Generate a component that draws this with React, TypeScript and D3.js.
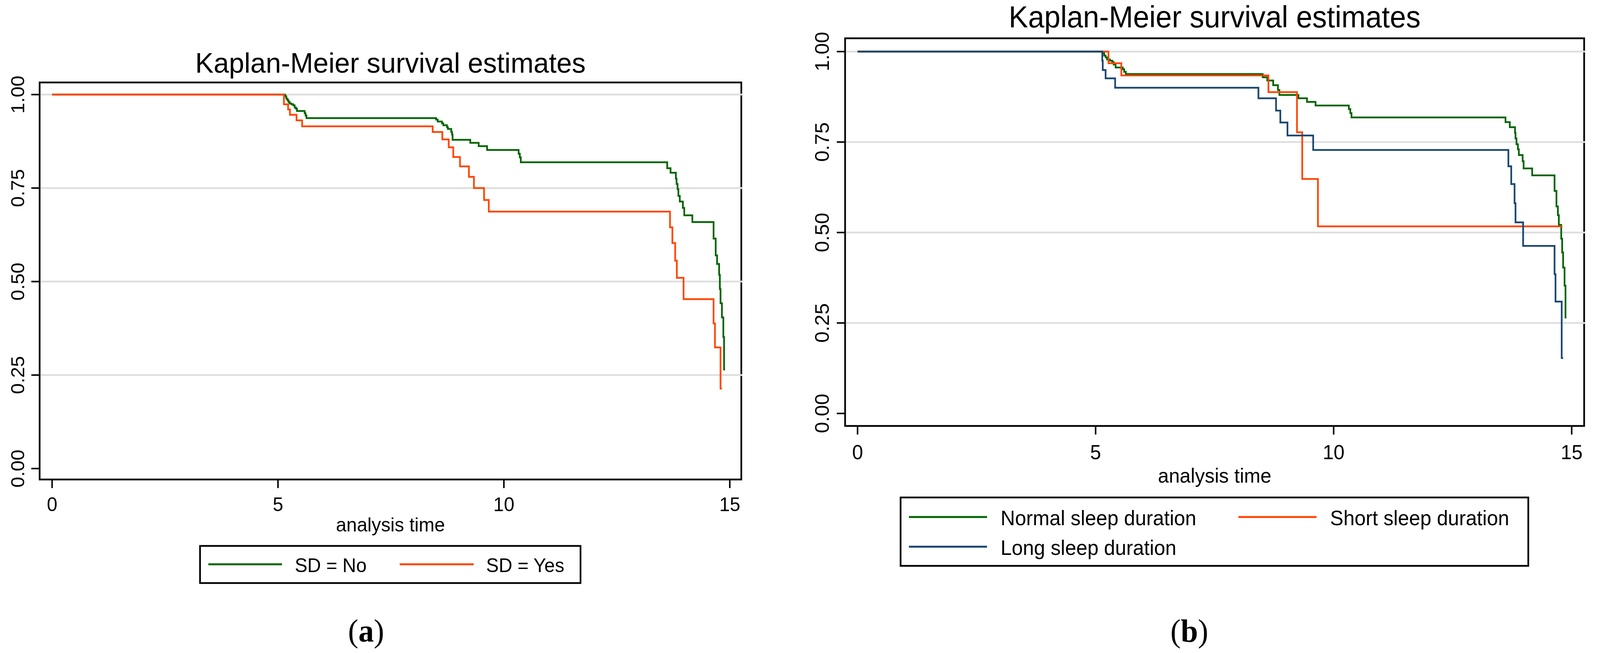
import React, { useEffect } from "react";
import * as d3 from "d3";

// ---------- data ----------
const xTicks = [0, 5, 10, 15];
const yTicks = [0, 0.25, 0.5, 0.75, 1];
const yGrid = [0.25, 0.5, 0.75, 1];
const yTickLabels = ["0.00", "0.25", "0.50", "0.75", "1.00"];
const chartTitle = "Kaplan-Meier survival estimates";
const xAxisTitle = "analysis time";

// Panel (a): SD = No
const aNoTime = [0, 5.155, 5.18, 5.19, 5.215, 5.235, 5.26, 5.3, 5.34, 5.37, 5.4, 5.42, 5.59, 5.61, 5.63,
  8.5, 8.535, 8.63, 8.66, 8.74, 8.76, 8.835, 8.853, 8.864, 9.256, 9.442, 9.628, 10.326, 10.352, 10.374,
  13.615, 13.689, 13.807, 13.822, 13.844, 13.862, 13.893, 13.962, 13.992, 14.171, 14.641, 14.688, 14.718,
  14.764, 14.78, 14.795, 14.826, 14.857, 14.873, 14.895];
const aNoSurv = [1, 0.996, 0.992, 0.988, 0.984, 0.98, 0.976, 0.974, 0.971, 0.965, 0.962, 0.956, 0.95, 0.944, 0.937,
  0.933, 0.928, 0.923, 0.918, 0.913, 0.908, 0.9, 0.893, 0.879, 0.871, 0.862, 0.852, 0.842, 0.832, 0.819,
  0.803, 0.791, 0.775, 0.761, 0.747, 0.729, 0.714, 0.697, 0.677, 0.659, 0.615, 0.57, 0.547,
  0.518, 0.48, 0.442, 0.404, 0.352, 0.265, 0.265];
// Panel (a): SD = Yes
const aYesTime = [0, 5.131, 5.224, 5.265, 5.41, 5.534, 8.424, 8.637, 8.779, 8.879, 9.028, 9.226, 9.337, 9.561, 9.666,
  13.677, 13.729, 13.791, 13.828, 13.977, 14.641, 14.672, 14.795, 14.826];
const aYesSurv = [1, 0.974, 0.96, 0.946, 0.931, 0.915, 0.9, 0.88, 0.859, 0.833, 0.808, 0.78, 0.75, 0.718, 0.687,
  0.645, 0.603, 0.556, 0.51, 0.453, 0.388, 0.324, 0.214, 0.214];

// Panel (b): Normal sleep duration
const bNormalTime = [0, 5.16, 5.18, 5.21, 5.24, 5.3, 5.35, 5.38, 5.42, 5.57, 5.6, 5.635, 8.51, 8.605, 8.73, 8.83, 8.86,
  9.26, 9.44, 9.62, 10.32, 10.35, 10.375, 13.61, 13.7, 13.81, 13.82, 13.84, 13.87, 13.89, 13.97, 13.99, 14.17,
  14.64, 14.68, 14.71, 14.73, 14.78, 14.8, 14.82, 14.85, 14.87, 14.89];
const bNormalSurv = [1, 0.996, 0.989, 0.984, 0.978, 0.975, 0.971, 0.964, 0.956, 0.951, 0.944, 0.938, 0.929, 0.92, 0.907, 0.894, 0.88,
  0.871, 0.861, 0.851, 0.841, 0.83, 0.818, 0.805, 0.791, 0.775, 0.76, 0.744, 0.73, 0.714, 0.697, 0.677, 0.658,
  0.615, 0.572, 0.548, 0.521, 0.483, 0.445, 0.403, 0.353, 0.265, 0.265];
// Panel (b): Short sleep duration
const bShortTime = [0, 5.27, 5.54, 8.63, 9.23, 9.34, 9.67, 14.805];
const bShortSurv = [1, 0.968, 0.934, 0.888, 0.777, 0.648, 0.517, 0.517];
// Panel (b): Long sleep duration
const bLongTime = [0, 5.14, 5.15, 5.21, 5.41, 8.42, 8.79, 8.88, 9.03, 9.57, 13.67, 13.73, 13.8, 13.82, 13.98,
  14.64, 14.66, 14.79, 14.82];
const bLongSurv = [1, 0.975, 0.949, 0.926, 0.9, 0.871, 0.837, 0.804, 0.768, 0.728, 0.683, 0.634, 0.581, 0.528, 0.463,
  0.385, 0.309, 0.153, 0.153];

const legendA = ["SD = No", "SD = Yes"];
const legendB = ["Normal sleep duration", "Short sleep duration", "Long sleep duration"];

// ---------- styles ----------
const GREEN = "#006400";
const ORANGE = "#FF4500";
const NAVY = "#1A476F";
const GRID = "#dedede";
const SANS = "'Liberation Sans', Arial, sans-serif";
const SERIF = "'Liberation Serif', 'Times New Roman', serif";

type Series = { time: number[]; surv: number[]; color: string };

function zip(t: number[], s: number[]): [number, number][] {
  return t.map((v, i) => [v, s[i]] as [number, number]);
}

type PanelProps = {
  frame: { l: number; r: number; t: number; b: number };
  xRange: [number, number];
  yRange: [number, number];
  series: Series[];
  fs: number;
  titleFs: number;
  titleY: number;
  xLabelY: number;
  yLabelX: number;
  axisTitleY: number;
};

function Panel(p: PanelProps) {
  const x = d3.scaleLinear().domain([0, 15]).range(p.xRange);
  const y = d3.scaleLinear().domain([0, 1]).range(p.yRange);
  const line = d3
    .line<[number, number]>()
    .x((d) => x(d[0]))
    .y((d) => y(d[1]))
    .curve(d3.curveStepAfter);
  const f = p.frame;
  const cx = (f.l + f.r) / 2;
  return (
    <g>
      <text x={cx} y={p.titleY} textAnchor="middle" fontFamily={SANS} fontSize={p.titleFs} fill="#000">
        {chartTitle}
      </text>
      {yTicks.map((v) => (
        <line key={"yt" + v} x1={f.l - 22} x2={f.l} y1={y(v)} y2={y(v)} stroke="#000" strokeWidth={4} />
      ))}
      {xTicks.map((v) => (
        <line key={"xt" + v} x1={x(v)} x2={x(v)} y1={f.b} y2={f.b + 22} stroke="#000" strokeWidth={4} />
      ))}
      {yTicks.map((v, i) => (
        <text
          key={"yl" + v}
          transform={`translate(${p.yLabelX},${y(v)}) rotate(-90)`}
          textAnchor="middle"
          fontFamily={SANS}
          fontSize={p.fs}
          fill="#000"
        >
          {yTickLabels[i]}
        </text>
      ))}
      {xTicks.map((v) => (
        <text key={"xl" + v} x={x(v)} y={p.xLabelY} textAnchor="middle" fontFamily={SANS} fontSize={p.fs} fill="#000">
          {String(v)}
        </text>
      ))}
      <text x={cx} y={p.axisTitleY} textAnchor="middle" fontFamily={SANS} fontSize={p.fs} fill="#000">
        {xAxisTitle}
      </text>
      <rect x={f.l} y={f.t} width={f.r - f.l} height={f.b - f.t} fill="none" stroke="#000" strokeWidth={4.5} />
      {yGrid.map((v) => (
        <line key={"g" + v} x1={f.l + 2.5} x2={f.r + 2.5} y1={y(v)} y2={y(v)} stroke={GRID} strokeWidth={4.5} />
      ))}
      {p.series.map((s, i) => (
        <path
          key={"s" + i}
          d={line(zip(s.time, s.surv)) || ""}
          fill="none"
          stroke={s.color}
          strokeWidth={4.5}
          strokeLinejoin="miter"
          strokeLinecap="butt"
        />
      ))}
    </g>
  );
}

function Legend(props: {
  box: { l: number; r: number; t: number; b: number };
  items: { label: string; color: string; x1: number; x2: number; y: number; tx: number; ty: number }[];
  fs: number;
}) {
  const b = props.box;
  return (
    <g>
      <rect x={b.l} y={b.t} width={b.r - b.l} height={b.b - b.t} fill="#fff" stroke="#000" strokeWidth={4.5} />
      {props.items.map((it) => (
        <g key={it.label}>
          <line x1={it.x1} x2={it.x2} y1={it.y} y2={it.y} stroke={it.color} strokeWidth={5} />
          <text x={it.tx} y={it.ty} fontFamily={SANS} fontSize={props.fs} fill="#000">
            {it.label}
          </text>
        </g>
      ))}
    </g>
  );
}

function SubLabel(props: { x: number; y: number; letter: string }) {
  return (
    <text x={props.x} y={props.y} textAnchor="middle" fontFamily={SERIF} fontSize={82} fill="#000">
      <tspan>(</tspan>
      <tspan fontWeight="bold">{props.letter}</tspan>
      <tspan>)</tspan>
    </text>
  );
}

export default function App() {
  const W = 4239;
  const H = 1671;
  useEffect(() => {
    document.body.style.margin = "0";
    document.body.style.overflow = "hidden";
    document.documentElement.style.overflow = "hidden";
  }, []);
  return (
    <svg
      viewBox={`0 0 ${W} ${H}`}
      preserveAspectRatio="none"
      style={{ position: "fixed", left: 0, top: 0, width: "100vw", height: "100vh", display: "block", background: "#fff" }}
    >
      <rect x={0} y={0} width={W} height={H} fill="#fff" />
      <Panel
        frame={{ l: 105, r: 1964, t: 211, b: 1227 }}
        xRange={[138, 1933.5]}
        yRange={[1199, 242]}
        series={[
          { time: aNoTime, surv: aNoSurv, color: GREEN },
          { time: aYesTime, surv: aYesSurv, color: ORANGE },
        ]}
        fs={50}
        titleFs={73}
        titleY={186}
        xLabelY={1308}
        yLabelX={64}
        axisTitleY={1360}
      />
      <Legend
        box={{ l: 530, r: 1538, t: 1397, b: 1492 }}
        fs={50}
        items={[
          { label: legendA[0], color: GREEN, x1: 552, x2: 747, y: 1444, tx: 781, ty: 1464 },
          { label: legendA[1], color: ORANGE, x1: 1059, x2: 1255, y: 1444, tx: 1288, ty: 1464 },
        ]}
      />
      <SubLabel x={970} y={1642} letter="a" />

      <Panel
        frame={{ l: 2239, r: 4197, t: 98, b: 1090 }}
        xRange={[2272, 4164]}
        yRange={[1058, 132]}
        series={[
          { time: bNormalTime, surv: bNormalSurv, color: GREEN },
          { time: bShortTime, surv: bShortSurv, color: ORANGE },
          { time: bLongTime, surv: bLongSurv, color: NAVY },
        ]}
        fs={52}
        titleFs={77}
        titleY={70}
        xLabelY={1175}
        yLabelX={2196}
        axisTitleY={1235}
      />
      <Legend
        box={{ l: 2386, r: 4049, t: 1273, b: 1448 }}
        fs={53}
        items={[
          { label: legendB[0], color: GREEN, x1: 2408, x2: 2615, y: 1323, tx: 2651, ty: 1344 },
          { label: legendB[1], color: ORANGE, x1: 3281, x2: 3488, y: 1323, tx: 3524, ty: 1344 },
          { label: legendB[2], color: NAVY, x1: 2408, x2: 2615, y: 1399, tx: 2651, ty: 1420 },
        ]}
      />
      <SubLabel x={3151} y={1642} letter="b" />
    </svg>
  );
}
